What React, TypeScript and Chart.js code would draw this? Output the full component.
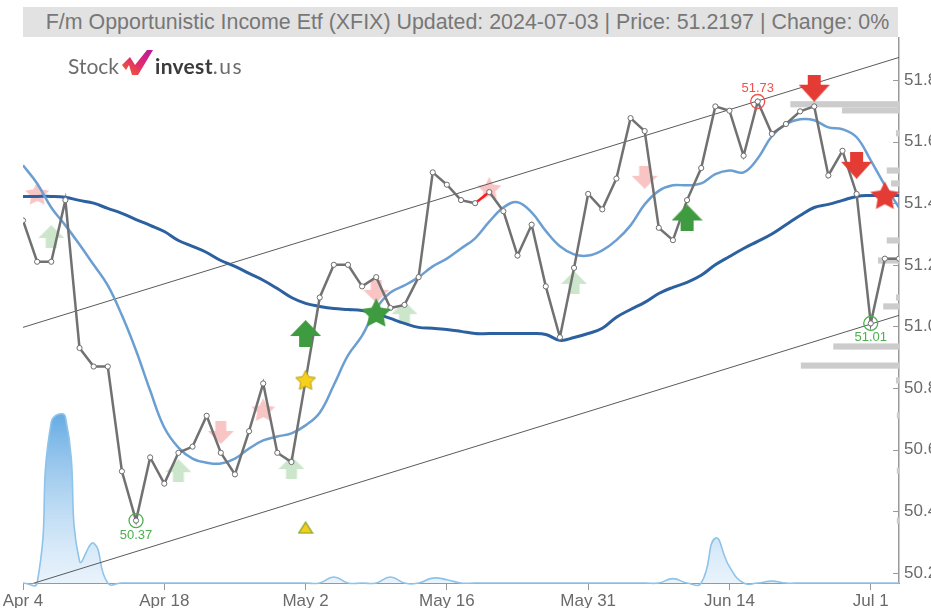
import React, { useEffect, useRef } from "react";
import { Chart, registerables } from "chart.js";

Chart.register(...registerables);

// ---------- data ----------
const dates = [
  "Apr 4", "Apr 5", "Apr 8", "Apr 9", "Apr 10", "Apr 11", "Apr 12", "Apr 15", "Apr 16", "Apr 17",
  "Apr 18", "Apr 19", "Apr 22", "Apr 23", "Apr 24", "Apr 25", "Apr 26", "Apr 29", "Apr 30", "May 1",
  "May 2", "May 3", "May 6", "May 7", "May 8", "May 9", "May 10", "May 13", "May 14", "May 15",
  "May 16", "May 17", "May 20", "May 21", "May 22", "May 23", "May 24", "May 28", "May 29", "May 30",
  "May 31", "Jun 3", "Jun 4", "Jun 5", "Jun 6", "Jun 7", "Jun 10", "Jun 11", "Jun 12", "Jun 13",
  "Jun 14", "Jun 17", "Jun 18", "Jun 20", "Jun 21", "Jun 24", "Jun 25", "Jun 26", "Jun 27", "Jun 28",
  "Jul 1", "Jul 2", "Jul 3",
];
const tickLabels = ["Apr 4", "Apr 18", "May 2", "May 16", "May 31", "Jun 14", "Jul 1"];

const price = [
  51.344, 51.21, 51.21, 51.41, 50.93, 50.87, 50.87, 50.53, 50.37, 50.575,
  50.49, 50.59, 50.61, 50.71, 50.59, 50.52, 50.66, 50.815, 50.59, 50.56,
  50.825, 51.094, 51.2, 51.2, 51.13, 51.16, 51.06, 51.07, 51.16, 51.5,
  51.46, 51.41, 51.4, 51.436, 51.374, 51.23, 51.33, 51.13, 50.965, 51.19,
  51.43, 51.38, 51.48, 51.676, 51.634, 51.32, 51.28, 51.41, 51.514, 51.714,
  51.7, 51.554, 51.73, 51.625, 51.657, 51.698, 51.714, 51.49, 51.57, 51.43,
  51.01, 51.22, 51.22,
];
const maShort = [
  51.523, 51.464, 51.386, 51.328, 51.266, 51.2, 51.133, 51.036, 50.922, 50.792,
  50.672, 50.607, 50.571, 50.558, 50.555, 50.571, 50.604, 50.63, 50.643, 50.653,
  50.679, 50.72, 50.81, 50.906, 50.97, 51.058, 51.11, 51.133, 51.16, 51.195,
  51.22, 51.253, 51.286, 51.34, 51.386, 51.403, 51.37, 51.31, 51.26, 51.234,
  51.23, 51.247, 51.28, 51.328, 51.396, 51.44, 51.458, 51.458, 51.464, 51.494,
  51.506, 51.5, 51.545, 51.617, 51.656, 51.672, 51.669, 51.646, 51.64, 51.614,
  51.539, 51.458, 51.386,
];
const maLong = [
  51.422, 51.422, 51.422, 51.419, 51.409, 51.4, 51.383, 51.367, 51.347, 51.328,
  51.308, 51.279, 51.26, 51.24, 51.214, 51.195, 51.172, 51.15, 51.123, 51.094,
  51.075, 51.065, 51.058, 51.055, 51.052, 51.042, 51.026, 51.01, 50.997, 50.994,
  50.99, 50.984, 50.977, 50.977, 50.977, 50.977, 50.977, 50.974, 50.955, 50.964,
  50.977, 50.994, 51.03, 51.055, 51.078, 51.107, 51.127, 51.143, 51.166, 51.2,
  51.227, 51.253, 51.276, 51.3, 51.33, 51.36, 51.386, 51.396, 51.409, 51.422,
  51.425, 51.425, 51.425,
];
const volumeWave = [
  0, 0, 29.5, 30.5, 4.0, 7.3, 0, 0, 0, 0,
  0, 0, 0, 0, 0, 0, 0, 0, 0, 0,
  0, 0, 1.1, 0, 0, 0, 1.1, 0, 0, 0.9,
  0.6, 0, 0, 0, 0, 0, 0, 0, 0, 0,
  0, 0, 0, 0, 0, 0, 0.8, 0, 0, 8.2,
  3.0, 0, 0, 0.35, 0, 0, 0, 0, 0, 0,
  0, 0, 0,
];

// channel lines: value at first and last trading day
const channelUpper = [50.997, 51.873];
const channelLower = [50.156, 51.036];

// volume-by-price profile (price level, relative size)
const profileLevels = [51.721, 51.701, 51.627, 51.506, 51.464, 51.279, 51.214, 51.094, 51.065, 50.935, 50.873, 50.825, 50.711, 50.532, 50.37];
const profileSizes = [12.4, 6.5, 0.35, 1.4, 0.9, 1.4, 2.4, 0.35, 1.8, 7.5, 11.2, 0.35, 0.25, 0.25, 0.25];

// signals: trading-day index + price level
const buyStrongArrowIdx = [20, 47];
const buyStrongArrowVal = [50.977, 51.352];
const buyWeakArrowIdx = [2, 11, 19, 27, 39];
const buyWeakArrowVal = [51.292, 50.532, 50.542, 51.045, 51.143];
const sellWeakArrowIdx = [14, 25, 44];
const sellWeakArrowVal = [50.656, 51.114, 51.484];
const sellWeakStarIdx = [1, 17, 33];
const sellWeakStarVal = [51.432, 50.73, 51.448];
const sellStrongArrowIdx = [56, 59];
const sellStrongArrowVal = [51.773, 51.523];
const sellStrongStarIdx = [61];
const sellStrongStarVal = [51.425];
const buyStrongStarIdx = [25];
const buyStrongStarVal = [51.045];
const goldStarIdx = [20];
const goldStarVal = [50.825];
const triangleIdx = [20];
const triangleVal = [50.347];
const lowIdx = [8, 60];
const highIdx = [52];
const redSegmentIdx = 32;

const titleText = "F/m Opportunistic Income Etf (XFIX) Updated: 2024-07-03 | Price: 51.2197 | Change: 0%";

// ---------- helpers ----------
function makeArrow(color: string, w: number, h: number, headH: number, shaftW: number, down: boolean) {
  const c = document.createElement("canvas");
  c.width = w;
  c.height = h;
  const g = c.getContext("2d")!;
  g.fillStyle = color;
  g.beginPath();
  const s0 = (w - shaftW) / 2;
  const s1 = (w + shaftW) / 2;
  if (!down) {
    g.moveTo(w / 2, 0);
    g.lineTo(w, headH);
    g.lineTo(s1, headH);
    g.lineTo(s1, h);
    g.lineTo(s0, h);
    g.lineTo(s0, headH);
    g.lineTo(0, headH);
  } else {
    g.moveTo(w / 2, h);
    g.lineTo(w, h - headH);
    g.lineTo(s1, h - headH);
    g.lineTo(s1, 0);
    g.lineTo(s0, 0);
    g.lineTo(s0, h - headH);
    g.lineTo(0, h - headH);
  }
  g.closePath();
  g.fill();
  return c;
}

function makeStar(color: string, w: number, stroke?: string) {
  const R = w / 1.902;
  const r = R * 0.5;
  const cw = Math.ceil(w) + 2;
  const ch = Math.ceil(R * 1.81) + 2;
  const c = document.createElement("canvas");
  c.width = cw;
  c.height = ch;
  const g = c.getContext("2d")!;
  const cx = cw / 2;
  const cy = R + 1;
  g.beginPath();
  for (let k = 0; k < 10; k++) {
    const rad = k % 2 === 0 ? R : r;
    const a = -Math.PI / 2 + (k * Math.PI) / 5;
    const px = cx + rad * Math.cos(a);
    const py = cy + rad * Math.sin(a);
    if (k === 0) g.moveTo(px, py);
    else g.lineTo(px, py);
  }
  g.closePath();
  g.fillStyle = color;
  g.fill();
  if (stroke) {
    g.strokeStyle = stroke;
    g.lineWidth = 1;
    g.stroke();
  }
  return c;
}

function makeTriangle(fill: string, stroke: string, w: number, h: number) {
  const c = document.createElement("canvas");
  c.width = w + 2;
  c.height = h + 2;
  const g = c.getContext("2d")!;
  g.beginPath();
  g.moveTo(1 + w / 2, 1);
  g.lineTo(1 + w, 1 + h);
  g.lineTo(1, 1 + h);
  g.closePath();
  g.fillStyle = fill;
  g.fill();
  g.strokeStyle = stroke;
  g.lineWidth = 1.2;
  g.stroke();
  return c;
}

const pts = (idx: number[], vals: number[]) => idx.map((i, k) => ({ x: i, y: vals[k] }));
const series = (vals: number[]) => vals.map((v, i) => ({ x: i, y: v }));

const AXIS_FONT = { family: "'Liberation Sans Narrow', 'Liberation Sans', Arial, sans-serif", size: 17 };

const profilePlugin = {
  id: "profile",
  beforeDatasetsDraw(chart: any) {
    const { ctx, chartArea, scales } = chart;
    const y = scales.y;
    const vp = scales.xvp;
    ctx.save();
    ctx.fillStyle = "#cccccc";
    profileLevels.forEach((lvl, k) => {
      const y0 = y.getPixelForValue(lvl + 0.01);
      const y1 = y.getPixelForValue(lvl - 0.01);
      const x0 = vp.getPixelForValue(profileSizes[k]);
      ctx.fillRect(x0, y0, chartArea.right - x0, y1 - y0);
    });
    ctx.restore();
  },
};

const tickPlugin = {
  id: "innerTicks",
  afterDraw(chart: any) {
    const { ctx, chartArea, scales } = chart;
    const y = scales.y;
    ctx.save();
    ctx.strokeStyle = "#999";
    ctx.lineWidth = 1;
    y.ticks.forEach((t: any) => {
      const py = Math.round(y.getPixelForValue(t.value)) + 0.5;
      ctx.beginPath();
      ctx.moveTo(chartArea.right - 6, py);
      ctx.lineTo(chartArea.right, py);
      ctx.stroke();
    });
    ctx.restore();
  },
};

const labelPlugin = {
  id: "extremaLabels",
  afterDatasetsDraw(chart: any) {
    const { ctx } = chart;
    ctx.save();
    ctx.font = "13px 'Liberation Sans', Arial, sans-serif";
    ctx.textAlign = "center";
    chart.data.datasets.forEach((ds: any, di: number) => {
      if (!ds.extremaLabel) return;
      const meta = chart.getDatasetMeta(di);
      meta.data.forEach((el: any, k: number) => {
        const v = ds.data[k].y;
        ctx.fillStyle = ds.borderColor;
        if (ds.extremaLabel === "below") {
          ctx.textBaseline = "top";
          ctx.fillText(v.toFixed(2), el.x, el.y + 8);
        } else {
          ctx.textBaseline = "bottom";
          ctx.fillText(v.toFixed(2), el.x, el.y - 7);
        }
      });
    });
    ctx.restore();
  },
};

export default function App() {
  const ref = useRef<HTMLCanvasElement | null>(null);

  useEffect(() => {
    if (!ref.current) return;
    const darkGreen = "#3e9b3f";
    const red = "#e53b35";
    const lightGreen = "rgba(70,165,70,0.28)";
    const pink = "rgba(232,60,60,0.3)";

    const imgBuyStrong = makeArrow(darkGreen, 31, 27, 16, 13, false);
    const imgBuyWeak = makeArrow(lightGreen, 26, 23, 13, 11, false);
    const imgSellWeak = makeArrow(pink, 26, 23, 13, 11, true);
    const imgSellStrong = makeArrow(red, 31, 27, 17, 13, true);
    const imgStarPink = makeStar(pink, 24);
    const imgStarRed = makeStar(red, 29);
    const imgStarGreen = makeStar(darkGreen, 30);
    const imgStarGold = makeStar("#f5d11c", 20, "#b59a10");
    const imgTriangle = makeTriangle("#f2cf1d", "#7e9a1e", 14, 11);

    const marker = (data: any[], img: any, order: number) => ({
      type: "line" as const,
      data,
      showLine: false,
      pointStyle: img,
      pointRadius: 6,
      pointHoverRadius: 6,
      order,
      clip: false,
    });

    const areaGradient = (c: any) => {
      const chart = c.chart;
      if (!chart.chartArea) return "rgba(120,180,230,0.4)";
      const s = chart.scales.yv;
      const g = chart.ctx.createLinearGradient(0, s.getPixelForValue(32), 0, s.getPixelForValue(0));
      g.addColorStop(0, "rgba(88,164,224,0.95)");
      g.addColorStop(1, "rgba(205,228,247,0.45)");
      return g;
    };

    const chart = new Chart(ref.current, {
      type: "line",
      data: {
        datasets: [
          // strong markers on top
          marker(pts(sellStrongArrowIdx, sellStrongArrowVal), imgSellStrong, 0),
          marker(pts(sellStrongStarIdx, sellStrongStarVal), imgStarRed, 0),
          marker(pts(buyStrongArrowIdx, buyStrongArrowVal), imgBuyStrong, 0),
          marker(pts(buyStrongStarIdx, buyStrongStarVal), imgStarGreen, 0),
          marker(pts(goldStarIdx, goldStarVal), imgStarGold, 0),
          marker(pts(triangleIdx, triangleVal), imgTriangle, 0),
          {
            type: "line",
            data: lowIdx.map((i) => ({ x: i, y: price[i] })),
            showLine: false,
            pointStyle: "circle",
            pointRadius: 7,
            pointBorderWidth: 1.3,
            pointBackgroundColor: "rgba(0,0,0,0)",
            borderColor: "#4caf50",
            extremaLabel: "below",
            order: 1,
          } as any,
          {
            type: "line",
            data: highIdx.map((i) => ({ x: i, y: price[i] })),
            showLine: false,
            pointStyle: "circle",
            pointRadius: 7,
            pointBorderWidth: 1.3,
            pointBackgroundColor: "rgba(0,0,0,0)",
            borderColor: "#f0524c",
            extremaLabel: "above",
            order: 1,
          } as any,
          {
            type: "line",
            data: series(price),
            borderColor: "#717171",
            borderWidth: 2.5,
            tension: 0,
            pointRadius: 2.6,
            pointBorderWidth: 1,
            pointBackgroundColor: "#ffffff",
            pointBorderColor: "#6d6d6d",
            segment: {
              borderColor: (c: any) => (c.p0DataIndex === redSegmentIdx ? "#ff1a1a" : undefined),
            },
            order: 2,
          },
          {
            type: "line",
            data: series(maShort),
            borderColor: "#6c9fd1",
            borderWidth: 2.5,
            tension: 0.4,
            pointRadius: 0,
            order: 3,
          },
          {
            type: "line",
            data: series(maLong),
            borderColor: "#2c609f",
            borderWidth: 3,
            tension: 0.4,
            pointRadius: 0,
            order: 4,
          },
          {
            type: "line",
            data: [
              { x: 0, y: channelUpper[0] },
              { x: dates.length - 1, y: channelUpper[1] },
            ],
            borderColor: "#5a5a5a",
            borderWidth: 1,
            pointRadius: 0,
            order: 5,
          },
          {
            type: "line",
            data: [
              { x: 0, y: channelLower[0] },
              { x: dates.length - 1, y: channelLower[1] },
            ],
            borderColor: "#5a5a5a",
            borderWidth: 1,
            pointRadius: 0,
            order: 5,
          },
          marker(pts(buyWeakArrowIdx, buyWeakArrowVal), imgBuyWeak, 6),
          marker(pts(sellWeakArrowIdx, sellWeakArrowVal), imgSellWeak, 6),
          marker(pts(sellWeakStarIdx, sellWeakStarVal), imgStarPink, 6),
          {
            type: "line",
            data: series(volumeWave),
            yAxisID: "yv",
            borderColor: "#8ec3ea",
            borderWidth: 1.6,
            backgroundColor: areaGradient,
            fill: "origin",
            tension: 0.5,
            capBezierPoints: false,
            pointRadius: 0,
            clip: false,
            order: 7,
          } as any,
        ],
      },
      options: {
        responsive: false,
        animation: false,
        events: [],
        layout: { padding: { left: 23, top: 38, right: 0, bottom: 0 } },
        plugins: {
          legend: { display: false },
          tooltip: { enabled: false },
          title: { display: false },
        },
        scales: {
          x: {
            type: "linear",
            position: "bottom",
            min: 0,
            max: dates.length - 1,
            grid: { display: true, drawOnChartArea: false, drawTicks: true, tickLength: 7, color: "#999" },
            border: { display: true, color: "#999", width: 1 },
            afterBuildTicks: (scale: any) => {
              scale.ticks = tickLabels.map((l) => ({ value: dates.indexOf(l) }));
            },
            afterFit: (scale: any) => {
              scale.height = 25;
            },
            ticks: {
              autoSkip: false,
              maxRotation: 0,
              padding: 1,
              color: "#6a6a6a",
              font: AXIS_FONT,
              callback: (v: any) => {
                const d = dates[Math.round(v)];
                return tickLabels.includes(d) ? d : "";
              },
            },
          },
          y: {
            type: "linear",
            position: "right",
            min: 50.1675,
            max: 51.936,
            grid: { display: false, drawTicks: false },
            border: { display: true, color: "#999", width: 1.5 },
            afterFit: (scale: any) => {
              scale.width = 32;
            },
            ticks: {
              stepSize: 0.2,
              includeBounds: false,
              padding: 5,
              color: "#6a6a6a",
              font: AXIS_FONT,
              callback: (v: any) => Number(v).toFixed(1),
            },
          },
          yv: {
            type: "linear",
            display: false,
            min: 0,
            max: 100,
          },
          xvp: {
            type: "linear",
            axis: "x",
            display: false,
            min: 0,
            max: 100,
            reverse: true,
          },
        },
      } as any,
      plugins: [profilePlugin, tickPlugin, labelPlugin],
    });
    return () => chart.destroy();
  }, []);

  return (
    <div
      style={{
        position: "fixed",
        left: 0,
        top: 0,
        width: 931,
        height: 608,
        overflow: "hidden",
        background: "#fff",
      }}
    >
      <canvas ref={ref} width={931} height={608} style={{ position: "absolute", left: 0, top: 0, width: 931, height: 608 }} />
      <div
        style={{
          position: "absolute",
          left: 23,
          top: 7,
          width: 875,
          height: 30,
          background: "#e2e2e2",
          color: "#777",
          fontFamily: "'Liberation Sans', Arial, sans-serif",
          fontSize: 21.4,
          lineHeight: "30px",
          textAlign: "center",
          whiteSpace: "nowrap",
          overflow: "hidden",
        }}
      >
        <span style={{ position: "relative", left: 7 }}>{titleText}</span>
      </div>
      <div
        style={{
          position: "absolute",
          left: 68,
          top: 50,
          height: 26,
          display: "flex",
          alignItems: "flex-end",
          fontFamily: "Lato, 'Open Sans', sans-serif",
          fontSize: 21,
          lineHeight: "21px",
          whiteSpace: "nowrap",
        }}
      >
        <span style={{ color: "#6d6d6d" }}>Stock</span>
        <svg width={32} height={25} viewBox="0 0 32 25" style={{ marginLeft: 3, marginRight: 1, marginBottom: 1 }}>
          <defs>
            <linearGradient id="lg" x1="0" y1="1" x2="1" y2="0">
              <stop offset="0" stopColor="#f26a21" />
              <stop offset="0.5" stopColor="#e22a6f" />
              <stop offset="1" stopColor="#b5179e" />
            </linearGradient>
          </defs>
          <polygon points="0,15 8,7 13,15 25,0 31,0 16,25 10,25 7,15 4,20" fill="url(#lg)" />
        </svg>
        <span style={{ color: "#3b3b3b", fontWeight: 700, letterSpacing: 0.3 }}>invest</span>
        <span style={{ color: "#6d6d6d", letterSpacing: 1.5 }}>.us</span>
      </div>
    </div>
  );
}
